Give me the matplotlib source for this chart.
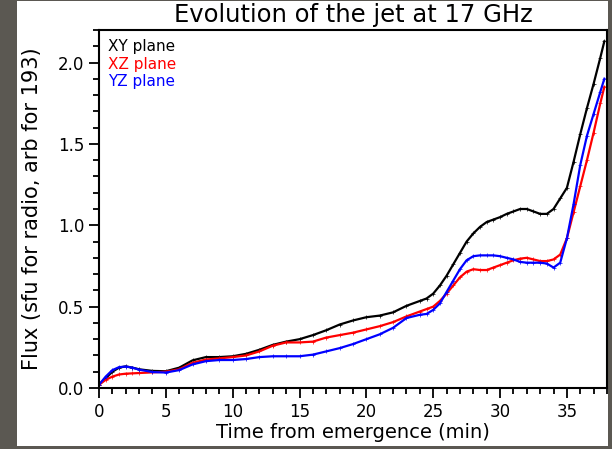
import matplotlib
matplotlib.use("Agg")
import matplotlib.pyplot as plt
from matplotlib.patches import Rectangle
from matplotlib.ticker import MultipleLocator

# time from emergence (min)
time_min = [0, 0.5, 1, 1.5, 2, 2.5, 3, 4, 5, 6, 7, 8, 9, 10, 11, 12, 13, 14, 15,
            16, 17, 18, 19, 20, 21, 22, 23, 24, 24.5, 25, 25.5, 26, 26.5, 27,
            27.5, 28, 28.5, 29, 29.5, 30, 30.5, 31, 31.5, 32, 32.5, 33, 33.5,
            34, 34.5, 35, 35.5, 36, 36.5, 37, 37.5, 37.8]

flux_xy = [0.02, 0.06, 0.10, 0.125, 0.133, 0.125, 0.115, 0.105, 0.103, 0.125,
           0.17, 0.19, 0.19, 0.195, 0.21, 0.235, 0.265, 0.285, 0.30, 0.325,
           0.355, 0.39, 0.415, 0.435, 0.445, 0.465, 0.505, 0.535, 0.55, 0.58,
           0.63, 0.69, 0.76, 0.83, 0.90, 0.95, 0.99, 1.02, 1.035, 1.05,
           1.07, 1.085, 1.10, 1.10, 1.085, 1.07, 1.07, 1.10, 1.165, 1.23,
           1.39, 1.56, 1.72, 1.87, 2.03, 2.13]
flux_xz = [0.02, 0.05, 0.07, 0.083, 0.088, 0.09, 0.092, 0.096, 0.10, 0.115,
           0.155, 0.175, 0.182, 0.19, 0.20, 0.225, 0.26, 0.28, 0.28, 0.285,
           0.31, 0.325, 0.34, 0.36, 0.38, 0.405, 0.44, 0.47, 0.485, 0.50,
           0.535, 0.58, 0.63, 0.68, 0.715, 0.73, 0.725, 0.725, 0.74, 0.755,
           0.77, 0.785, 0.795, 0.80, 0.79, 0.78, 0.78, 0.79, 0.82, 0.92,
           1.08, 1.24, 1.40, 1.57, 1.75, 1.85]
flux_yz = [0.02, 0.07, 0.11, 0.128, 0.132, 0.125, 0.113, 0.098, 0.095, 0.11,
           0.145, 0.165, 0.172, 0.172, 0.178, 0.19, 0.195, 0.195, 0.195, 0.205,
           0.225, 0.245, 0.27, 0.30, 0.33, 0.37, 0.43, 0.45, 0.455, 0.48,
           0.52, 0.59, 0.66, 0.73, 0.785, 0.81, 0.815, 0.815, 0.815, 0.81,
           0.80, 0.79, 0.775, 0.77, 0.77, 0.77, 0.765, 0.74, 0.77, 0.92,
           1.13, 1.37, 1.55, 1.685, 1.82, 1.90]

series = [
    ("XY plane", flux_xy, "black"),
    ("XZ plane", flux_xz, "#ff0000"),
    ("YZ plane", flux_yz, "#0000ff"),
]

fig = plt.figure(figsize=(6.12, 4.49), dpi=100, facecolor="#5b5852")
# white slide panel behind the plot
fig.patches.append(Rectangle((17 / 612, 3 / 449), 591 / 612, 445 / 449,
                             transform=fig.transFigure, facecolor="white",
                             edgecolor="none", zorder=-10))

ax = fig.add_axes([99 / 612, 1 - 388 / 449, 508 / 612, 358 / 449])
ax.set_facecolor("white")

for label, values, color in series:
    ax.plot(time_min, values, color=color, lw=1.6, marker="+", ms=2.5, mew=0.5)

ax.set_xlim(0, 38)
ax.set_ylim(0, 2.2)
ax.xaxis.set_major_locator(MultipleLocator(5))
ax.xaxis.set_minor_locator(MultipleLocator(1))
ax.yaxis.set_major_locator(MultipleLocator(0.5))
ax.yaxis.set_minor_locator(MultipleLocator(0.1))
ax.yaxis.set_major_formatter(plt.FormatStrFormatter("%.1f"))
ax.tick_params(which="both", direction="out", width=1.3, top=False, right=False,
               labelsize=12)
ax.tick_params(which="major", length=7)
ax.tick_params(which="minor", length=4)
for spine in ax.spines.values():
    spine.set_linewidth(1.5)

ax.set_xlabel("Time from emergence (min)", fontsize=14, labelpad=2)
ax.set_ylabel("Flux (sfu for radio, arb for 193)", fontsize=15, va="center")
ax.yaxis.set_label_coords(-0.132, 0.5)
fig.text(353 / 612, 1 - 15 / 449, "Evolution of the jet at 17 GHz",
         ha="center", va="center", fontsize=17.5)

for i, (label, values, color) in enumerate(series):
    ax.text(0.018, 0.955 - i * 0.05, label, color=color, fontsize=11,
            transform=ax.transAxes, ha="left", va="center")

fig.savefig("out.png", dpi=100, facecolor=fig.get_facecolor())
